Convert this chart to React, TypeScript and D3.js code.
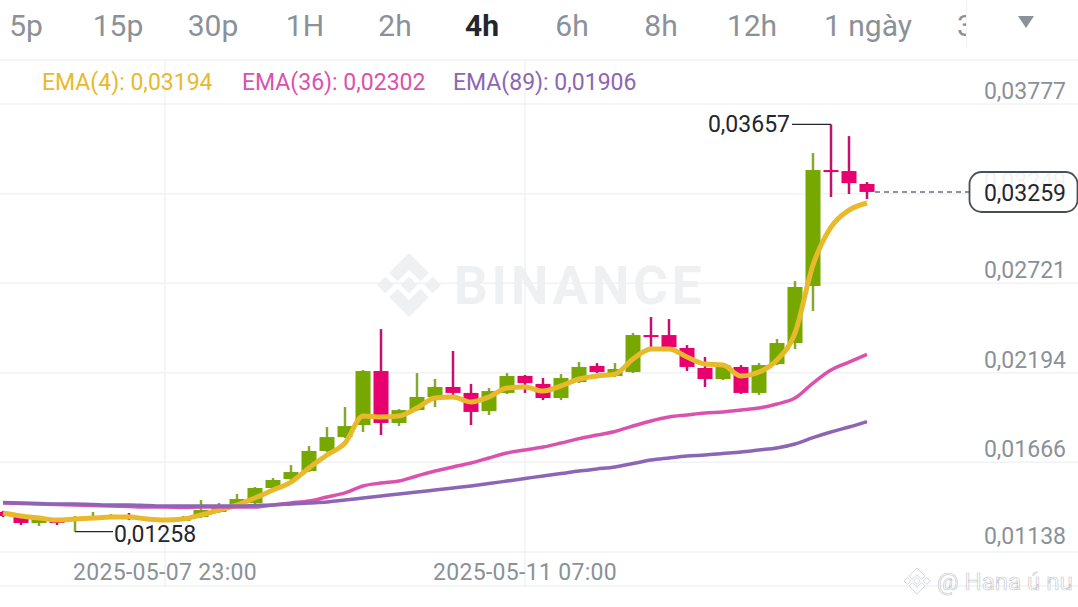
import * as d3 from 'd3';

const W = 1078;
const H = 607;

const intervals = [
  { label: '5p', x: 26 },
  { label: '15p', x: 118 },
  { label: '30p', x: 213 },
  { label: '1H', x: 305 },
  { label: '2h', x: 395 },
  { label: '4h', x: 482, active: true },
  { label: '6h', x: 572 },
  { label: '8h', x: 661 },
  { label: '12h', x: 752 },
  { label: '1 ngày', x: 868 },
];

// 4h candles, oldest first
const opens = [
  0.01374, 0.01356, 0.01309, 0.01326, 0.01321, 0.01332, 0.01338, 0.0135, 0.01338, 0.01321,
  0.01321, 0.01344, 0.01374, 0.01415, 0.01427, 0.01515, 0.01568, 0.01615, 0.01733, 0.01815,
  0.01886, 0.02204, 0.01898, 0.01974, 0.02051, 0.0211, 0.02075, 0.01968, 0.02075, 0.02175,
  0.02128, 0.02045, 0.02139, 0.02234, 0.02175, 0.02198, 0.02416, 0.02416, 0.0234, 0.02222,
  0.02157, 0.02228, 0.02075, 0.02245, 0.02369, 0.02705, 0.03388, 0.03382, 0.03306,
];
const highs = [
  0.0138, 0.01362, 0.01344, 0.01332, 0.0135, 0.01374, 0.01362, 0.01368, 0.01344, 0.01338,
  0.0135, 0.01444, 0.01427, 0.0148, 0.01521, 0.01574, 0.0165, 0.01762, 0.01874, 0.01992,
  0.0221, 0.02451, 0.0198, 0.02192, 0.02157, 0.02322, 0.02128, 0.02104, 0.02192, 0.02181,
  0.02163, 0.02186, 0.02257, 0.02251, 0.02251, 0.02428, 0.02522, 0.0251, 0.02357, 0.02287,
  0.02245, 0.02239, 0.02251, 0.02393, 0.02734, 0.03488, 0.03657, 0.03588, 0.03317,
];
const lows = [
  0.01344, 0.01297, 0.01291, 0.01297, 0.01258, 0.01326, 0.01332, 0.01326, 0.01321, 0.01315,
  0.01321, 0.01338, 0.01368, 0.01409, 0.01421, 0.01509, 0.01562, 0.01609, 0.01727, 0.01809,
  0.01845, 0.01827, 0.0188, 0.01968, 0.01992, 0.02063, 0.01886, 0.01945, 0.02069, 0.02075,
  0.02033, 0.02033, 0.02133, 0.02192, 0.02169, 0.02192, 0.02345, 0.0234, 0.02204, 0.0211,
  0.02151, 0.02069, 0.02063, 0.02239, 0.02334, 0.02557, 0.03229, 0.03247, 0.03217,
];
const closes = [
  0.0135, 0.01309, 0.01338, 0.01309, 0.01338, 0.0135, 0.0135, 0.01332, 0.01326, 0.01332,
  0.01344, 0.01385, 0.01415, 0.0145, 0.01515, 0.01562, 0.01609, 0.01733, 0.01815, 0.0188,
  0.02204, 0.01898, 0.01974, 0.02051, 0.0211, 0.02075, 0.01963, 0.02086, 0.02175, 0.02133,
  0.02045, 0.02163, 0.02228, 0.02198, 0.02216, 0.02416, 0.02404, 0.02345, 0.02228, 0.02157,
  0.02239, 0.02075, 0.02239, 0.02369, 0.02699, 0.03388, 0.03376, 0.03311, 0.03259,
];

const ema4 = [
  0.01368, 0.0135, 0.01338, 0.01326, 0.01332, 0.01338, 0.01344, 0.01344, 0.01332, 0.01326,
  0.01332, 0.01356, 0.01385, 0.01415, 0.01456, 0.01503, 0.0155, 0.01633, 0.01709, 0.0178,
  0.01939, 0.01933, 0.01939, 0.01986, 0.02045, 0.02051, 0.02022, 0.02051, 0.02104, 0.0211,
  0.02086, 0.02116, 0.02157, 0.02175, 0.02186, 0.02275, 0.02334, 0.02334, 0.02287, 0.02245,
  0.02239, 0.02175, 0.02198, 0.02269, 0.02428, 0.02828, 0.03052, 0.03152, 0.03194,
];
const ema36 = [
  0.01427, 0.01424, 0.01421, 0.01418, 0.01415, 0.01412, 0.01409, 0.01406, 0.01403, 0.01403,
  0.014, 0.01403, 0.01403, 0.01403, 0.01403, 0.01415, 0.01427, 0.01438, 0.01462, 0.01486,
  0.01527, 0.01544, 0.01556, 0.01586, 0.01615, 0.01639, 0.01662, 0.01692, 0.01721, 0.01739,
  0.01756, 0.0178, 0.01806, 0.01827, 0.01848, 0.0188, 0.0191, 0.01933, 0.01945, 0.01957,
  0.01963, 0.01974, 0.01986, 0.0201, 0.02045, 0.02133, 0.0221, 0.02257, 0.02302,
];
const ema89 = [
  0.0143, 0.01427, 0.01424, 0.01421, 0.01421, 0.01418, 0.01415, 0.01415, 0.01412, 0.01409,
  0.01409, 0.01409, 0.01409, 0.01409, 0.01412, 0.01415, 0.01421, 0.01427, 0.01433, 0.01444,
  0.01456, 0.01468, 0.0148, 0.01491, 0.01503, 0.01515, 0.01527, 0.01541, 0.01556, 0.01571,
  0.01586, 0.016, 0.01615, 0.01627, 0.01639, 0.01659, 0.0168, 0.01692, 0.01703, 0.01709,
  0.01718, 0.01727, 0.01739, 0.01751, 0.01774, 0.01812, 0.01845, 0.01874, 0.01906,
];

const priceTicks = [0.03777, 0.03249, 0.02721, 0.02194, 0.01666, 0.01138];
const timeTicks = [new Date(Date.UTC(2025, 4, 7, 23)), new Date(Date.UTC(2025, 4, 11, 7))];

const firstCandle = Date.UTC(2025, 4, 6, 11);
const fourHours = 4 * 3600 * 1000;
const times = opens.map((_, i) => new Date(firstCandle + i * fourHours));

const GREEN = '#76a800';
const GREEN_WICK = '#86a830';
const RED = '#e8006f';
const RED_WICK = '#c4116e';
const YELLOW = '#e8b92b';
const PINK = '#da52ad';
const PURPLE = '#8c66b4';
const GRID = '#f1f2f3';
const GREY = '#8b9199';
const DARK = '#23272d';

const FONT = 'Roboto, sans-serif';

const x = d3.scaleUtc().domain([times[0], times[times.length - 1]]).range([3, 867]);
const y = d3.scaleLinear().domain([0.01138, 0.03777]).range([552, 104]);

const fmtPrice = (v: number) => v.toFixed(5).replace('.', ',');
const fmtTime = d3.utcFormat('%Y-%m-%d %H:%M');

const emaLine = d3
  .line<number>()
  .x((_, i) => x(times[i]))
  .y((d) => y(d))
  .curve(d3.curveMonotoneX);

// the Binance mark, drawn in a box of about -1..1
function Logo({ cx, cy, r, fill, stroke }: { cx: number; cy: number; r: number; fill: string; stroke?: string }) {
  const d =
    'M0,-0.26 L0.26,0 L0,0.26 L-0.26,0 Z ' +
    'M-1,0 L-0.74,-0.26 L-0.48,0 L-0.74,0.26 Z ' +
    'M1,0 L0.74,-0.26 L0.48,0 L0.74,0.26 Z ' +
    'M0,-1 L0.62,-0.38 L0.36,-0.12 L0,-0.48 L-0.36,-0.12 L-0.62,-0.38 Z ' +
    'M0,1 L0.62,0.38 L0.36,0.12 L0,0.48 L-0.36,0.12 L-0.62,0.38 Z';
  return (
    <path
      d={d}
      transform={`translate(${cx},${cy}) scale(${r})`}
      fill={fill}
      stroke={stroke}
      strokeWidth={stroke ? 1 / r : 0}
    />
  );
}

export default function App() {
  const lastY = y(closes[closes.length - 1]);
  const highIdx = highs.indexOf(d3.max(highs) as number);
  const lowIdx = lows.indexOf(d3.min(lows) as number);

  return (
    <svg
      width={W}
      height={H}
      viewBox={`0 0 ${W} ${H}`}
      style={{ position: 'fixed', left: 0, top: 0, background: '#fff', fontFamily: FONT }}
    >
      {/* interval tabs */}
      {intervals.map((t) => (
        <text
          key={t.label}
          x={t.x}
          y={36}
          textAnchor="middle"
          fontSize={30}
          fontWeight={t.active ? 700 : 400}
          fill={t.active ? DARK : GREY}
        >
          {t.label}
        </text>
      ))}
      <text x={957} y={36} fontSize={30} fill={GREY}>3 ngày</text>
      <rect x={966} y={0} width={112} height={50} fill="#fff" />
      <line x1={966.5} x2={966.5} y1={0} y2={48} stroke={GRID} />
      <path d="M1018,16 L1034,16 L1026,28 Z" fill={GREY} />

      {/* grid */}
      <line x1={0} x2={W} y1={60} y2={60} stroke={GRID} strokeWidth={1.5} />
      <line x1={0} x2={W} y1={586} y2={586} stroke={GRID} strokeWidth={1.5} />
      {priceTicks.map((p) => (
        <line key={p} x1={0} x2={W} y1={y(p)} y2={y(p)} stroke={GRID} strokeWidth={1.5} />
      ))}
      {timeTicks.map((t) => (
        <line key={+t} x1={x(t)} x2={x(t)} y1={60} y2={586} stroke={GRID} strokeWidth={1.5} />
      ))}

      {/* watermark */}
      <Logo cx={409} cy={285} r={32} fill="#eff0f1" />
      <text x={454} y={304} fontSize={53} fontWeight={700} letterSpacing={3.8} fill="#eff0f1">BINANCE</text>

      {/* axis labels */}
      {priceTicks.map((p, i) => (
        <text
          key={p}
          x={1066}
          y={y(p) - (i === priceTicks.length - 1 ? 8 : 5)}
          textAnchor="end"
          fontSize={23}
          fill={GREY}
        >
          {fmtPrice(p)}
        </text>
      ))}
      {timeTicks.map((t) => (
        <text key={+t} x={x(t)} y={580} textAnchor="middle" fontSize={23} letterSpacing={0.3} fill={GREY}>
          {fmtTime(t)}
        </text>
      ))}

      {/* candles */}
      {times.map((t, i) => {
        const up = closes[i] >= opens[i];
        const top = y(Math.max(opens[i], closes[i]));
        const bottom = y(Math.min(opens[i], closes[i]));
        return (
          <g key={i}>
            <line
              x1={x(t)}
              x2={x(t)}
              y1={y(highs[i])}
              y2={y(lows[i])}
              stroke={up ? GREEN_WICK : RED_WICK}
              strokeWidth={2.5}
            />
            <rect
              x={x(t) - 7.5}
              y={top}
              width={15}
              height={Math.max(bottom - top, 1.5)}
              fill={up ? GREEN : RED}
            />
          </g>
        );
      })}

      {/* EMAs */}
      <path d={emaLine(ema4) ?? ''} fill="none" stroke={YELLOW} strokeWidth={5} />
      <path d={emaLine(ema36) ?? ''} fill="none" stroke={PINK} strokeWidth={3.5} />
      <path d={emaLine(ema89) ?? ''} fill="none" stroke={PURPLE} strokeWidth={3.5} />

      {/* legend */}
      <text x={42} y={90} fontSize={23} fill={YELLOW}>{`EMA(4): ${fmtPrice(ema4[48])}`}</text>
      <text x={242} y={90} fontSize={23} fill={PINK}>{`EMA(36): ${fmtPrice(ema36[48])}`}</text>
      <text x={453} y={90} fontSize={23} fill={PURPLE}>{`EMA(89): ${fmtPrice(ema89[48])}`}</text>

      {/* high and low markers */}
      <path
        d={`M${x(times[highIdx])},${y(highs[highIdx])} H792`}
        fill="none"
        stroke={DARK}
        strokeWidth={1.3}
      />
      <text x={790} y={y(highs[highIdx]) + 8} textAnchor="end" fontSize={23} fill={DARK}>
        {fmtPrice(highs[highIdx])}
      </text>
      <path
        d={`M${x(times[lowIdx])},${y(lows[lowIdx])} H113`}
        fill="none"
        stroke={DARK}
        strokeWidth={1.3}
      />
      <text x={114} y={y(lows[lowIdx]) + 10} fontSize={23} fill={DARK}>
        {fmtPrice(lows[lowIdx])}
      </text>

      {/* last price */}
      <line
        x1={x(times[48]) + 8}
        x2={969}
        y1={lastY}
        y2={lastY}
        stroke="#6b7078"
        strokeWidth={1.5}
        strokeDasharray="5 4"
      />
      <rect x={969.5} y={172} width={108} height={40} rx={12} fill="#fff" fillOpacity={0.88} stroke="#4a4e55" strokeWidth={1.8} />
      <text x={1066} y={201} textAnchor="end" fontSize={23} fill={DARK}>
        {fmtPrice(closes[48])}
      </text>

      {/* photo credit */}
      <Logo cx={917} cy={581} r={13} fill="#fff" stroke="#d5d7da" />
      <text x={937} y={590} fontSize={24} fill="#fff" stroke="#c9ccd0" strokeWidth={0.7}>@ Hana ú nu</text>
    </svg>
  );
}
